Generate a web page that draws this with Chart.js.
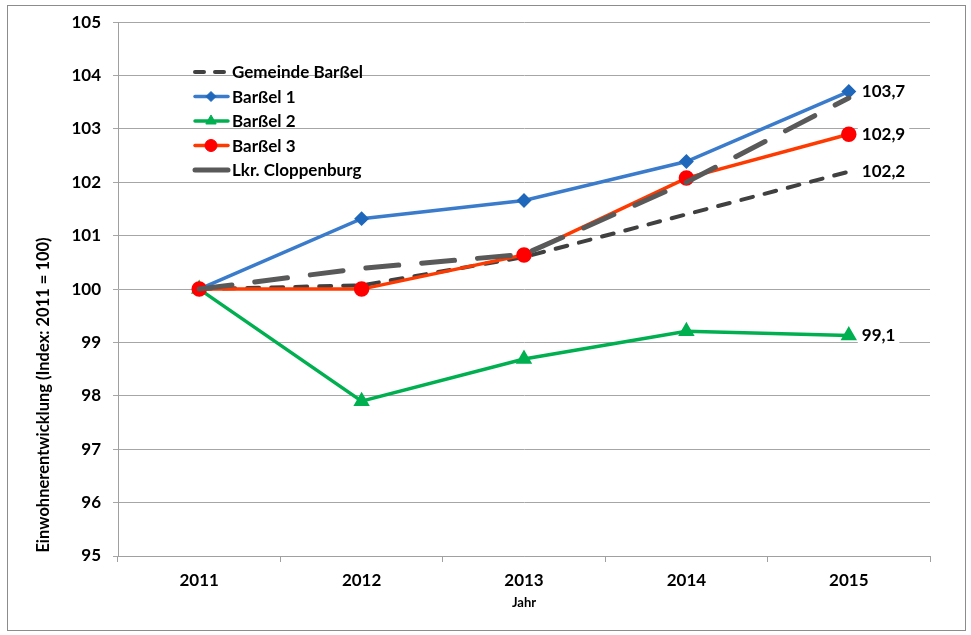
<!DOCTYPE html>
<html>
<head>
<meta charset="utf-8">
<script src="https://cdn.jsdelivr.net/npm/chart.js@4"></script>
<style>
  body { margin: 0; background: #fff; }
  #wrap { width: 971px; height: 635px; }
</style>
</head>
<body>
<div id="wrap"><canvas id="lineChart" width="971" height="635"></canvas></div>
<script>
var years = ["2011", "2012", "2013", "2014", "2015"];
var gemeinde = [100, 100.07, 100.6, 101.4, 102.2];
var barssel1 = [100, 101.32, 101.66, 102.39, 103.7];
var barssel2 = [100, 97.9, 98.69, 99.21, 99.13];
var barssel3 = [100, 100, 100.64, 102.08, 102.9];
var cloppenburg = [100, 100.39, 100.65, 102.0, 103.58];
var yTicks = [95, 96, 97, 98, 99, 100, 101, 102, 103, 104, 105];

var font = "Lato";

// legend + labels at 2015 + outer frame
var extras = {
  id: "extras",
  beforeDraw: function(chart) {
    var ctx = chart.ctx;
    ctx.save();
    ctx.fillStyle = "#fff";
    ctx.fillRect(0, 0, chart.width, chart.height);
    ctx.strokeStyle = "#8c8c8c";
    ctx.lineWidth = 1;
    ctx.strokeRect(7.5, 5.5, 958, 625);
    ctx.restore();
  },
  afterDraw: function(chart) {
    var ctx = chart.ctx;
    ctx.save();

    // y axis title
    ctx.save();
    ctx.translate(44, 395);
    ctx.rotate(-Math.PI / 2);
    ctx.fillStyle = "#000";
    ctx.font = "bold 16.5px " + font;
    ctx.textAlign = "center";
    ctx.textBaseline = "middle";
    ctx.fillText("Einwohnerentwicklung (Index: 2011 = 100)", 0, 0);
    ctx.restore();

    // end labels
    ctx.font = "bold 17px " + font;
    ctx.textBaseline = "middle";
    ctx.textAlign = "left";
    chart.data.datasets.forEach(function(ds, i) {
      if (!ds.endLabel) return;
      var meta = chart.getDatasetMeta(i);
      var pt = meta.data[meta.data.length - 1];
      var txt = ds.data[ds.data.length - 1].toFixed(1).replace(".", ",");
      var w = ctx.measureText(txt).width;
      var x = pt.x + 13;
      ctx.fillStyle = "#fff";
      ctx.fillRect(x - 4, pt.y - 10, w + 8, 20);
      ctx.fillStyle = "#000";
      ctx.fillText(txt, x, pt.y);
    });

    // legend
    var y0 = 72, step = 24.5;
    chart.data.datasets.forEach(function(ds, i) {
      var y = y0 + i * step;
      ctx.save();
      ctx.strokeStyle = ds.borderColor;
      ctx.lineWidth = ds.borderWidth;
      ctx.lineCap = "round";
      ctx.setLineDash(ds.legendDash || []);
      ctx.beginPath();
      ctx.moveTo(195, y);
      ctx.lineTo(228, y);
      ctx.stroke();
      ctx.restore();
      if (ds.pointRadius > 0) {
        ctx.fillStyle = ds.pointBackgroundColor;
        ctx.strokeStyle = ds.pointBorderColor;
        ctx.lineWidth = 1;
        Chart.helpers.drawPoint(ctx, {
          pointStyle: ds.pointStyle,
          radius: ds.pointRadius,
          borderWidth: 1
        }, 211, y);
      }
      ctx.fillStyle = "#000";
      ctx.font = "bold 17px " + font;
      ctx.textAlign = "left";
      ctx.textBaseline = "middle";
      ctx.fillText(ds.label, 232, y + 1);
    });

    ctx.restore();
  }
};

var ctxL = document.getElementById("lineChart").getContext("2d");

var myLineChart = new Chart(ctxL, {
  type: "line",
  data: {
    labels: years,
    datasets: [{
      label: "Gemeinde Barßel",
      data: gemeinde,
      borderColor: "#404040",
      borderWidth: 4,
      borderDash: [12, 12],
      borderCapStyle: "round",
      legendDash: [9, 11],
      pointRadius: 0,
      endLabel: true,
      order: 5
    }, {
      label: "Barßel 1",
      data: barssel1,
      borderColor: "#3a7ccb",
      borderWidth: 3.5,
      pointStyle: "rectRot",
      pointRadius: 5,
      pointBackgroundColor: "#1f67bb",
      pointBorderColor: "#1f67bb",
      endLabel: true,
      order: 4
    }, {
      label: "Barßel 2",
      data: barssel2,
      borderColor: "#00b050",
      borderWidth: 3.5,
      pointStyle: "triangle",
      pointRadius: 6,
      pointBackgroundColor: "#00b050",
      pointBorderColor: "#00b050",
      endLabel: true,
      order: 3
    }, {
      label: "Barßel 3",
      data: barssel3,
      borderColor: "#ff3a00",
      borderWidth: 3.5,
      pointStyle: "circle",
      pointRadius: 6,
      pointBackgroundColor: "#ff0000",
      pointBorderColor: "#ff0000",
      endLabel: true,
      order: 2
    }, {
      label: "Lkr. Cloppenburg",
      data: cloppenburg,
      borderColor: "#595959",
      borderWidth: 5,
      borderDash: [33, 23],
      borderCapStyle: "round",
      pointRadius: 0,
      endLabel: false,
      order: 1
    }]
  },
  options: {
    responsive: false,
    animation: false,
    layout: { padding: { top: 20, right: 41, bottom: 0, left: 0 } },
    plugins: {
      legend: { display: false },
      tooltip: { enabled: false }
    },
    elements: { line: { tension: 0 } },
    scales: {
      x: {
        offset: true,
        grid: {
          offset: true,
          drawOnChartArea: false,
          drawTicks: true,
          tickLength: 6,
          color: "#a0a0a0"
        },
        border: { display: true, color: "#a0a0a0" },
        ticks: {
          color: "#000",
          font: { family: font, size: 17, weight: "bold" },
          padding: 8,
          maxRotation: 0
        },
        title: {
          display: true,
          text: "Jahr",
          color: "#000",
          font: { family: font, size: 13, weight: "bold" },
          padding: { top: 0, bottom: 24 }
        },
        afterFit: function(s) { s.height = 79; }
      },
      y: {
        min: 95,
        max: 105,
        afterBuildTicks: function(s) {
          s.ticks = yTicks.map(function(v) { return { value: v }; });
        },
        grid: {
          drawTicks: true,
          tickLength: 5,
          color: "#a6a6a6"
        },
        border: { display: true, color: "#a0a0a0" },
        ticks: {
          color: "#000",
          font: { family: font, size: 17, weight: "bold" },
          padding: 12
        },
        afterFit: function(s) { s.width = 118; }
      }
    }
  },
  plugins: [extras]
});
</script>
</body>
</html>
